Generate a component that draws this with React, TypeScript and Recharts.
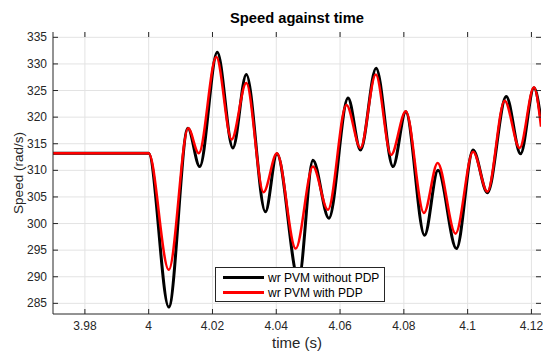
import { LineChart, Line, XAxis, YAxis, CartesianGrid } from 'recharts';

// time axis ticks and speed axis ticks
const timeTicks = [3.98, 4, 4.02, 4.04, 4.06, 4.08, 4.1, 4.12];
const speedTicks = [285, 290, 295, 300, 305, 310, 315, 320, 325, 330, 335];

// wr PVM without PDP (black)
const noPdpTime = [3.97, 4.0, 4.0063, 4.0123, 4.016, 4.0215, 4.0264, 4.0306, 4.0366, 4.0402, 4.047, 4.0515, 4.0565, 4.0625, 4.0664, 4.0713, 4.0766, 4.0806, 4.0865, 4.0907, 4.0965, 4.1017, 4.1062, 4.1121, 4.1166, 4.1208, 4.123];
const noPdpSpeed = [313.2, 313.2, 284.3, 317.9, 310.7, 332.2, 314.2, 328.0, 302.2, 313.1, 289.5, 311.9, 301.0, 323.6, 313.8, 329.2, 310.7, 321.0, 297.8, 310.0, 295.3, 313.8, 305.8, 323.9, 313.1, 325.5, 319.5];

// wr PVM with PDP (red)
const pdpTime = [3.97, 4.0, 4.0063, 4.0124, 4.0157, 4.0212, 4.026, 4.0306, 4.036, 4.0402, 4.0461, 4.0515, 4.0562, 4.062, 4.0664, 4.0712, 4.076, 4.0806, 4.0863, 4.0906, 4.0962, 4.1017, 4.1062, 4.1116, 4.1163, 4.1208, 4.123];
const pdpSpeed = [313.2, 313.2, 291.3, 317.9, 313.2, 331.3, 315.8, 326.4, 305.9, 313.2, 295.3, 310.7, 302.6, 322.3, 314.2, 328.0, 312.9, 321.1, 302.0, 311.4, 298.1, 313.5, 306.0, 323.1, 314.2, 325.6, 318.2];

const seriesNames = ['wr PVM without PDP', 'wr PVM with PDP'];
const seriesColors = ['#000000', '#ff0000'];

const noPdpData = noPdpTime.map((t, i) => ({ t, v: noPdpSpeed[i] }));
const pdpData = pdpTime.map((t, i) => ({ t, v: pdpSpeed[i] }));

const W = 543;
const H = 354;
const PLOT_LEFT = 53;
const PLOT_TOP = 32;
const PLOT_RIGHT = 541;
const PLOT_BOTTOM = 314;
const AXIS = '#262626';
const FONT = '"Liberation Sans", Arial, Helvetica, sans-serif';

const fmt = (t: number) => String(Math.round(t * 100) / 100);

// eslint-disable-next-line @typescript-eslint/no-explicit-any
function TimeTick({ x, payload }: any) {
  return (
    <g>
      <line x1={x} x2={x} y1={PLOT_BOTTOM} y2={PLOT_BOTTOM - 5} stroke={AXIS} strokeWidth={1} />
      <line x1={x} x2={x} y1={PLOT_TOP} y2={PLOT_TOP + 5} stroke={AXIS} strokeWidth={1} />
      <text x={x} y={PLOT_BOTTOM + 16} textAnchor="middle" fill={AXIS} fontSize={12} fontFamily={FONT}>
        {fmt(payload.value)}
      </text>
    </g>
  );
}

// eslint-disable-next-line @typescript-eslint/no-explicit-any
function SpeedTick({ y, payload }: any) {
  return (
    <g>
      <line x1={PLOT_LEFT} x2={PLOT_LEFT + 5} y1={y} y2={y} stroke={AXIS} strokeWidth={1} />
      <line x1={PLOT_RIGHT} x2={PLOT_RIGHT - 5} y1={y} y2={y} stroke={AXIS} strokeWidth={1} />
      <text x={PLOT_LEFT - 6} y={y + 4} textAnchor="end" fill={AXIS} fontSize={12} fontFamily={FONT}>
        {payload.value}
      </text>
    </g>
  );
}

export default function App() {
  return (
    <div style={{ position: 'absolute', left: 0, top: 0, width: W, height: H, background: '#fff' }}>
      <div style={{ position: 'absolute', left: PLOT_LEFT, width: PLOT_RIGHT - PLOT_LEFT, top: 11, textAlign: 'center', fontFamily: FONT, fontWeight: 'bold', fontSize: 14.7, lineHeight: '15px', color: '#000' }}>
        Speed against time
      </div>
      <LineChart width={W} height={H} margin={{ top: PLOT_TOP, right: W - PLOT_RIGHT, bottom: 0, left: 0 }}>
        <CartesianGrid stroke="#e3e3e3" strokeWidth={1} horizontalValues={speedTicks} verticalValues={timeTicks} />
        <XAxis
          dataKey="t"
          type="number"
          domain={[3.97, 4.123]}
          allowDataOverflow
          ticks={timeTicks}
          interval={0}
          height={H - PLOT_BOTTOM}
          tickLine={false}
          axisLine={{ stroke: AXIS }}
          tick={<TimeTick />}
          label={{ value: 'time (s)', position: 'insideBottom', offset: 6, fontSize: 15, fontFamily: FONT, style: { fill: AXIS } }}
        />
        <XAxis xAxisId="top" orientation="top" type="number" domain={[3.97, 4.123]} height={0} tick={false} tickLine={false} axisLine={{ stroke: AXIS }} />
        <YAxis
          type="number"
          domain={[283, 336]}
          allowDataOverflow
          ticks={speedTicks}
          interval={0}
          width={PLOT_LEFT}
          tickLine={false}
          axisLine={{ stroke: AXIS }}
          tick={<SpeedTick />}
          label={{ value: 'Speed (rad/s)', angle: -90, position: 'insideLeft', offset: 18, fontSize: 13.5, fontFamily: FONT, style: { textAnchor: 'middle', fill: AXIS } }}
        />
        <YAxis yAxisId="right" orientation="right" type="number" domain={[283, 336]} width={0} tick={false} tickLine={false} axisLine={{ stroke: AXIS }} />
        <Line data={noPdpData} dataKey="v" type="monotone" stroke={seriesColors[0]} strokeWidth={3} dot={false} isAnimationActive={false} name={seriesNames[0]} />
        <Line data={pdpData} dataKey="v" type="monotone" stroke={seriesColors[1]} strokeWidth={2.5} dot={false} isAnimationActive={false} name={seriesNames[1]} />
      </LineChart>
      <div style={{ position: 'absolute', left: 215, top: 267, width: 168, height: 33, border: `1px solid ${AXIS}`, background: '#fff', fontFamily: FONT, fontSize: 12, color: '#000' }}>
        {seriesNames.map((name, i) => (
          <div key={name} style={{ position: 'absolute', top: 2 + i * 15, left: 0, height: 15, display: 'flex', alignItems: 'center' }}>
            <div style={{ marginLeft: 7, width: 41, height: 3, background: seriesColors[i] }} />
            <span style={{ marginLeft: 4, whiteSpace: 'nowrap' }}>{name}</span>
          </div>
        ))}
      </div>
    </div>
  );
}
